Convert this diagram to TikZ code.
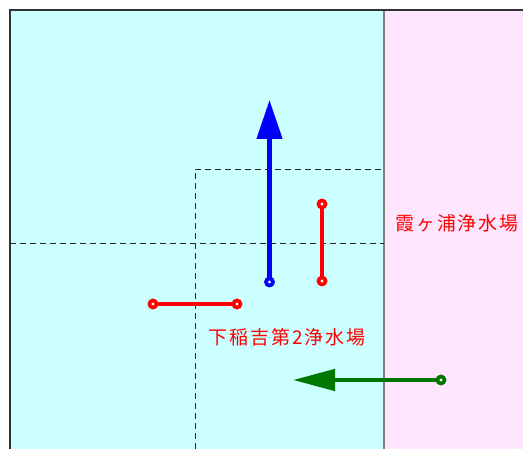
\documentclass[tikz,border=0pt]{standalone}
\usepackage{fontspec}
\newfontfamily\jpfont[LetterSpace=10]{Noto Sans CJK JP}
\usetikzlibrary{arrows.meta}
\definecolor{cyanbg}{HTML}{CCFFFF}
\definecolor{pinkbg}{HTML}{FFE6FF}
\definecolor{darkgreen}{HTML}{007700}
\tikzset{
  marker/.style={circle, fill=#1, draw=none, inner sep=0pt, minimum size=11pt,
    path picture={\fill[white] (path picture bounding box.center) circle (1.7pt);}},
  guide/.style={dashed, dash pattern=on 6pt off 4pt, line width=0.8pt, black!85},
  lbl/.style={text=red, font=\jpfont\fontsize{19}{19}\selectfont, inner sep=0pt}
}
\begin{document}
\begin{tikzpicture}[x=1pt,y=-1pt]
\useasboundingbox (0,0) rectangle (523,449);
% backgrounds
\fill[cyanbg] (10,10) rectangle (384,449);
\fill[pinkbg] (384,10) rectangle (523,449);
\draw[line width=2pt, black!50] (384,10) -- (384,449);
\draw[line width=1.6pt, black!80] (10,449) -- (10,10) -- (523,10);
% dashed guides
\draw[guide] (10,243.5) -- (384,243.5);
\draw[guide] (195,449) -- (195,169) -- (384,169);
% coordinates
\coordinate (b1) at (269.5,282);
\coordinate (btip) at (269.5,100);
\coordinate (r1) at (322,204);
\coordinate (r2) at (322,281);
\coordinate (r3) at (153,304);
\coordinate (r4) at (237,304);
\coordinate (g1) at (441,380);
\coordinate (gtip) at (293,380);
% connectors
\draw[blue, line width=4.5pt, -{Triangle[length=39pt,width=25pt]}] (b1) -- (btip);
\draw[red, line width=4.5pt] (r1) -- (r2);
\draw[red, line width=4.5pt] (r3) -- (r4);
\draw[darkgreen, line width=4.5pt, -{Triangle[length=42pt,width=21pt]}] (g1) -- (gtip);
% markers
\node[marker=blue] (mb1) at (b1) {};
\node[marker=red] (mr1) at (r1) {};
\node[marker=red] (mr2) at (r2) {};
\node[marker=red] (mr3) at (r3) {};
\node[marker=red] (mr4) at (r4) {};
\node[marker=darkgreen] (mg1) at (g1) {};
% labels
\node[lbl] (kasumi) at (457,223) {霞ヶ浦浄水場};
\node[lbl] (shimo) at (287,337) {下稲吉第2浄水場};
\end{tikzpicture}
\end{document}
